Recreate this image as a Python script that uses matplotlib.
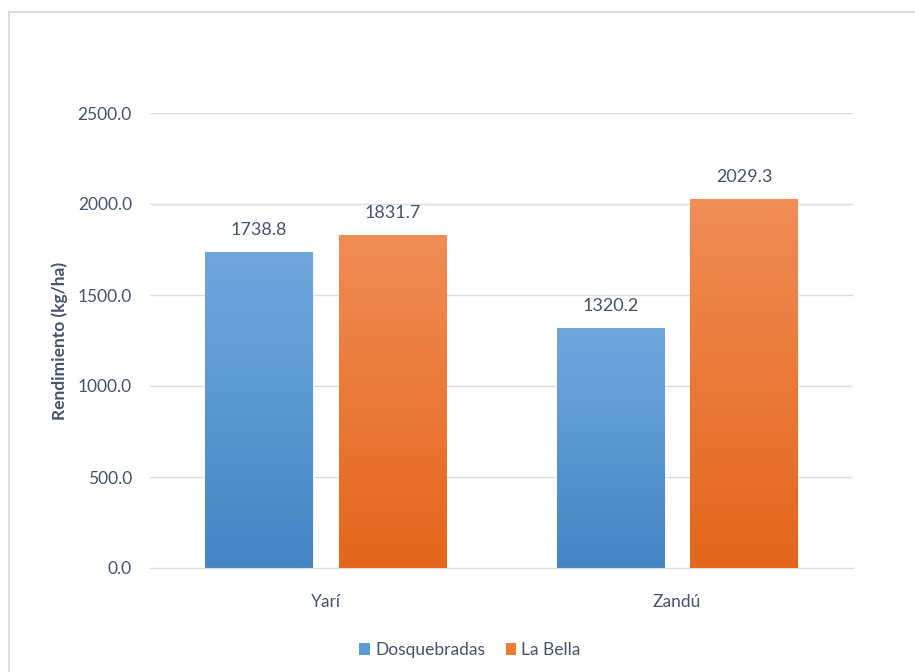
import numpy as np
import matplotlib.pyplot as plt
from matplotlib.colors import LinearSegmentedColormap
from matplotlib.patches import Patch
from matplotlib.lines import Line2D

plt.rcParams['font.family'] = ['Lato', 'DejaVu Sans']

categories = ['Yarí', 'Zandú']
series = ['Dosquebradas', 'La Bella']
dosquebradas = [1738.8, 1320.2]
la_bella = [1831.7, 2029.3]
y_ticks = [0, 500, 1000, 1500, 2000, 2500]

text_color = '#44546a'
grid_color = '#d9dde3'
# (top colour, bottom colour) of each series gradient
grads = [('#70a8dc', '#4385c6'), ('#f18d56', '#e3661a')]
solid = ['#5b9bd5', '#ed7d31']

fig = plt.figure(figsize=(9.15, 6.72), dpi=100)
ax = fig.add_axes([150 / 915, 1 - 568 / 672, 703 / 915, 455 / 672])

x = np.arange(len(categories))
width = 0.307
offset = 0.19
values = [dosquebradas, la_bella]

for s, vals in enumerate(values):
    cmap = LinearSegmentedColormap.from_list('g%d' % s, [grads[s][1], grads[s][0]])
    xs = x + (-offset if s == 0 else offset)
    bars = ax.bar(xs, vals, width, color=solid[s], edgecolor='#ffffff',
                  linewidth=0.6, zorder=2, label=series[s])
    for b, v in zip(bars, vals):
        x0 = b.get_x()
        grad = np.linspace(0, 1, 256).reshape(-1, 1)
        im = ax.imshow(grad, extent=[x0, x0 + width, 0, v], origin='lower',
                       aspect='auto', cmap=cmap, zorder=2.5)
        im.set_clip_path(b)
        ax.text(b.get_x() + width / 2, v + 75, '%.1f' % v, ha='center',
                va='bottom', fontsize=13, color=text_color)

ax.set_xlim(-0.5, 1.5)
ax.set_ylim(0, 2500)
ax.set_yticks(y_ticks)
ax.set_yticklabels(['%.1f' % t for t in y_ticks])
ax.set_xticks(x)
ax.set_xticklabels(categories)
ax.tick_params(axis='y', length=0, pad=13, labelsize=12.5, labelcolor=text_color)
ax.tick_params(axis='x', length=0, pad=19, labelsize=12.5, labelcolor=text_color)
ax.yaxis.grid(True, color=grid_color, linewidth=1, zorder=0)
ax.set_axisbelow(True)
for side in ['top', 'right', 'left']:
    ax.spines[side].set_visible(False)
ax.spines['bottom'].set_color(grid_color)
ax.set_ylabel('Rendimiento (kg/ha)', fontsize=12.5, fontweight='bold',
              color=text_color, labelpad=7)

handles = [Patch(facecolor=solid[0], label=series[0]),
           Patch(facecolor=solid[1], label=series[1])]
fig.legend(handles=handles, loc='center', bbox_to_anchor=(470 / 915, 1 - 650 / 672),
           ncol=2, frameon=False, fontsize=12.5, handlelength=0.6, handleheight=0.7,
           handletextpad=0.3, columnspacing=1.2, labelcolor=text_color)

# outer chart frame (left and top edges)
fig.add_artist(Line2D([8.5 / 915, 8.5 / 915], [0, 1 - 12 / 672], color='#d9dde3',
                      linewidth=1.5, transform=fig.transFigure))
fig.add_artist(Line2D([8.5 / 915, 1], [1 - 12 / 672, 1 - 12 / 672], color='#d9dde3',
                      linewidth=1.5, transform=fig.transFigure))

fig.savefig('out.png', dpi=100)
